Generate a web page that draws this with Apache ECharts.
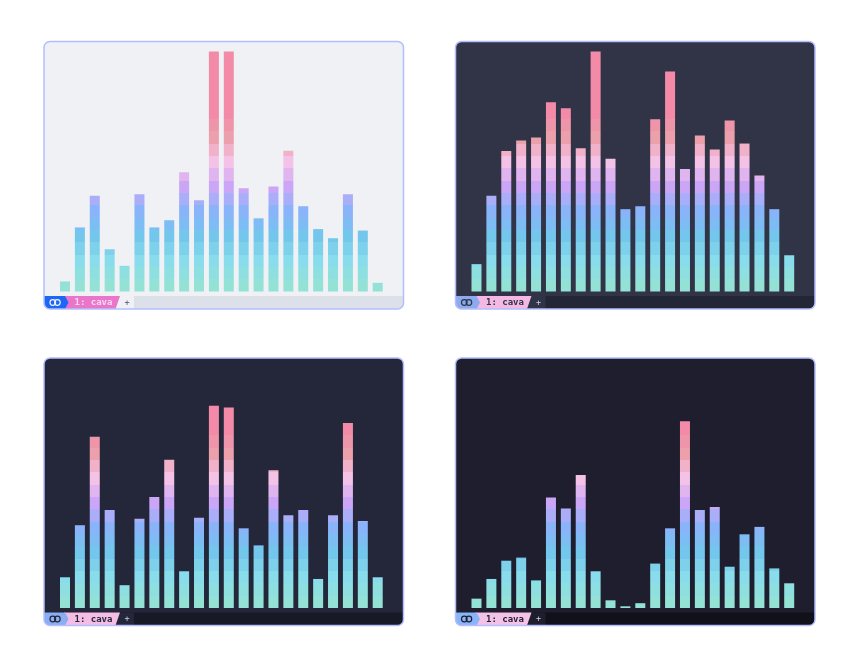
<!DOCTYPE html>
<html>
<head>
<meta charset="utf-8">
<script src="https://cdn.jsdelivr.net/npm/echarts@6/dist/echarts.min.js"></script>
<style>
html,body{margin:0;padding:0;background:#ffffff;}
#chart{width:862px;height:671px;}
</style>
</head>
<body>
<div id="chart"></div>
<script>
// ---- data ----
const bars = ['1','2','3','4','5','6','7','8','9','10','11','12','13','14','15','16','17','18','19','20','21','22'];
const latteValues     = [4.2, 26.7, 39.9, 17.6, 10.7, 40.5, 26.7, 29.7, 49.7, 38.0, 100, 100, 43.0, 30.5, 43.8, 58.6, 35.5, 26.0, 22.2, 40.5, 25.4, 3.6];
const frappeValues    = [11.4, 39.9, 58.5, 62.9, 64.2, 78.9, 76.4, 59.7, 100, 55.3, 34.3, 35.5, 71.8, 91.7, 51.0, 65.0, 59.2, 71.3, 61.7, 48.3, 34.3, 15.1];
const macchiatoValues = [12.8, 34.5, 71.4, 40.8, 9.5, 37.2, 46.3, 61.8, 15.3, 37.6, 84.3, 83.5, 33.2, 26.1, 57.4, 38.6, 40.8, 12.1, 38.6, 77.1, 36.3, 12.8];
const mochaValues     = [3.9, 12.1, 19.7, 21.0, 11.5, 46.0, 41.5, 55.4, 15.3, 3.2, 0.7, 2.0, 18.5, 33.2, 77.8, 40.8, 42.1, 17.2, 30.7, 33.8, 16.5, 10.3];
const tabLabel = '1: cava';
const plusLabel = '+';

// ---- styles ----
const rowColors = ['#94e2d5','#8edfe0','#89dceb','#7ed1eb','#74c7ec','#7ebdf3','#89b4fa','#aaadf8',
                   '#cba6f7','#e0b4ef','#f5c2e7','#f0b1c9','#eba0ac','#ef95aa','#f38ba8'];
const ROW_H = 12.33;

const panels = [
  {values: latteValues, L: 44, T: 41.5, bg:'#eff1f5', crust:'#dce0e8', plusBg:'#eff1f5', blue:'#1e66f5', pink:'#ea76cb', tabText:'#f9d8ef', icon:'#eff1f5', plus:'#4c4f69'},
  {values: frappeValues, L: 455.5, T: 41.5, bg:'#303446', crust:'#232634', plusBg:'#303446', blue:'#8caaee', pink:'#f4b8e4', tabText:'#303446', icon:'#303446', plus:'#c6d0f5'},
  {values: macchiatoValues, L: 44, T: 358, bg:'#24273a', crust:'#181926', plusBg:'#24273a', blue:'#8aadf4', pink:'#f5bde6', tabText:'#24273a', icon:'#24273a', plus:'#cad3f5'},
  {values: mochaValues, L: 455.5, T: 358, bg:'#1e1e2e', crust:'#11111b', plusBg:'#1e1e2e', blue:'#89b4fa', pink:'#f5c2e7', tabText:'#1e1e2e', icon:'#1e1e2e', plus:'#cdd6f4'}
];
const W = 359.5, H = 267.5;

function bandGradient(bottom) {
  const stops = [];
  const n = rowColors.length;
  rowColors.forEach((c, i) => {
    stops.push({offset: i / n, color: c});
    stops.push({offset: (i + 1) / n, color: c});
  });
  return {type:'linear', x:0, y:bottom, x2:0, y2:bottom - n * ROW_H, global:true, colorStops: stops};
}

const grids = [], xAxes = [], yAxes = [], series = [], graphics = [];
panels.forEach((p, i) => {
  const L = p.L, T = p.T;
  const bottom = T + 250;
  grids.push({left: L + 13.55, top: T + 10, width: 327.6, height: 240});
  xAxes.push({type:'category', gridIndex:i, data: bars, show:false});
  yAxes.push({type:'value', gridIndex:i, min:0, max:100, show:false});
  series.push({
    type:'bar', xAxisIndex:i, yAxisIndex:i, data: p.values, barWidth: 10,
    itemStyle: {color: bandGradient(bottom)}, silent:true
  });
  const sy = T + 254.5, by = T + H, mid = (sy + by) / 2;
  graphics.push(
    {type:'rect', z:0, shape:{x:L, y:T, width:W, height:H, r:6}, style:{fill:p.bg}},
    {type:'rect', z:1, shape:{x:L, y:sy, width:W, height:by - sy, r:[0,0,6,6]}, style:{fill:p.crust}},
    {type:'polygon', z:1, shape:{points:[[L+76,sy],[L+90,sy],[L+90,by],[L+71.5,by]]}, style:{fill:p.plusBg}},
    {type:'polygon', z:2, shape:{points:[[L+20,sy],[L+76,sy],[L+71.5,by],[L+20,by]]}, style:{fill:p.pink}},
    {type:'polygon', z:3, shape:{points:[[L,sy],[L+21,sy],[L+24.5,mid],[L+21,by],[L+5,by],[L+1.5,by-1.5],[L,by-5]]}, style:{fill:p.blue}},
    {type:'circle', z:4, shape:{cx:L+8.8, cy:mid, r:2.8}, style:{fill:'none', stroke:p.icon, lineWidth:1.2}},
    {type:'circle', z:4, shape:{cx:L+13.4, cy:mid, r:2.8}, style:{fill:'none', stroke:p.icon, lineWidth:1.2}},
    {type:'text', z:4, style:{text:tabLabel, x:L+30.5, y:mid+0.5, fill:p.tabText, fontSize:9, fontWeight:'bold', fontFamily:'"DejaVu Sans Mono", monospace', align:'left', verticalAlign:'middle'}},
    {type:'text', z:4, style:{text:plusLabel, x:L+83, y:mid, fill:p.plus, fontSize:8.5, fontFamily:'"DejaVu Sans Mono", monospace', align:'center', verticalAlign:'middle'}},
    {type:'rect', z:10, shape:{x:L, y:T, width:W, height:H, r:6}, style:{fill:'none', stroke:'#b4befe', lineWidth:1.5}}
  );
});

const chart = echarts.init(document.getElementById('chart'), null, {renderer:'canvas'});
chart.setOption({
  animation:false,
  backgroundColor:'#ffffff',
  grid: grids,
  xAxis: xAxes,
  yAxis: yAxes,
  series: series,
  graphic: {elements: graphics}
});
</script>
</body>
</html>
